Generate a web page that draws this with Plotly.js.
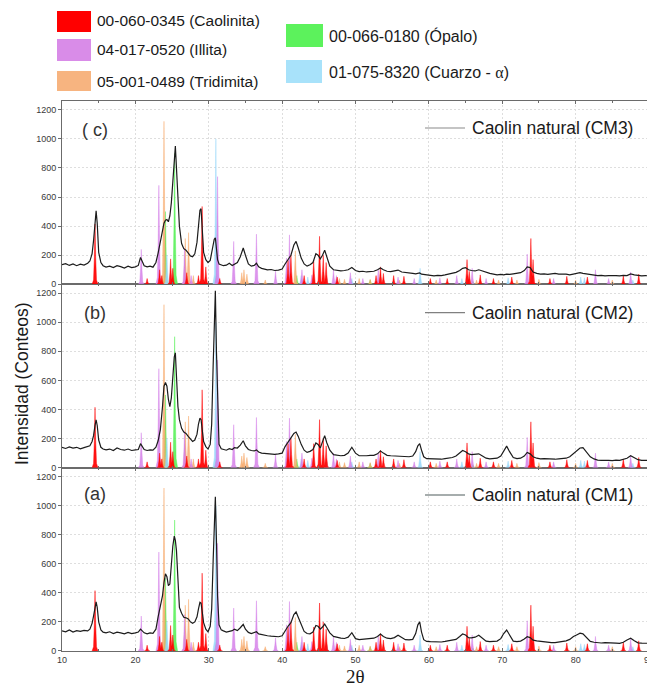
<!DOCTYPE html>
<html><head><meta charset="utf-8">
<script src="https://cdn.plot.ly/plotly-3.0.1.min.js"></script>
<style>html,body{margin:0;padding:0;overflow:hidden;background:#fff}</style>
</head><body><div id="chart"></div>
<script>
// ---- measured patterns (2θ grid shared by the three samples) ----
const twoTheta = [
 10,10.5,11,11.5,12,12.5,13,13.5,13.8,14.1,14.3,14.5,14.65,14.8,15.0,15.3,15.6,16,16.5,17,17.5,18,18.5,19,19.5,
 20,20.4,20.7,20.9,21.2,21.6,22,22.4,22.8,23.1,23.4,23.7,23.9,24.1,24.3,24.5,24.7,24.9,25.1,25.3,25.45,25.6,25.8,26.0,26.3,26.6,26.9,27.2,27.5,27.8,28.1,28.4,28.6,28.8,28.95,29.1,29.3,29.6,29.9,
 30.2,30.4,30.6,30.75,30.9,31.05,31.2,31.4,31.7,32.0,32.4,32.8,33.2,33.5,33.9,34.3,34.7,35.0,35.4,35.8,36.2,36.5,36.8,37.2,37.6,38.0,38.5,39.0,39.5,
 40.0,40.4,40.8,41.2,41.6,41.9,42.2,42.6,43.0,43.4,43.8,44.2,44.6,44.9,45.2,45.5,45.8,46.1,46.5,47.0,47.5,48.0,48.5,49.0,49.5,
 50.0,50.5,51.0,51.5,52.0,52.5,53.0,53.4,53.8,54.3,54.8,55.3,55.8,56.3,56.8,57.3,57.8,58.2,58.5,58.75,59.0,59.3,59.7,
 60.2,60.7,61.2,61.7,62.2,62.7,63.2,63.7,64.2,64.6,65.0,65.4,65.8,66.3,66.8,67.3,67.8,68.3,68.8,69.3,69.8,
 70.2,70.6,71.0,71.5,72.0,72.5,73.0,73.4,73.8,74.2,74.7,75.2,75.7,76.2,76.7,77.2,77.7,78.2,78.7,79.2,79.7,
 80.2,80.6,81.0,81.5,82.0,82.5,83.0,83.5,84.0,84.5,85.0,85.5,86.0,86.5,87.0,87.5,88.0,88.5,89.0,89.5,90
];
const cm3 = [
 135,142,130,140,128,138,132,145,160,210,300,440,505,420,220,150,128,118,125,115,128,122,112,125,115,
 120,130,185,165,128,120,125,118,150,215,300,380,420,440,445,430,470,560,700,870,950,800,560,400,280,245,235,215,195,190,210,290,420,510,520,400,220,170,150,
 165,210,270,310,320,260,170,140,135,128,132,145,130,140,150,190,250,200,140,125,130,145,120,110,105,100,102,95,98,
 105,140,175,200,270,295,250,180,140,125,135,150,210,200,175,200,235,180,125,100,95,92,95,100,115,
 95,88,90,85,88,90,100,112,100,90,88,92,98,85,80,78,75,72,75,78,70,68,62,
 60,58,62,60,65,70,75,82,95,110,115,100,95,92,100,90,80,75,70,65,68,
 65,70,68,72,75,80,95,120,115,85,75,70,72,68,72,75,70,72,70,65,70,
 75,80,75,70,65,62,60,62,58,60,62,60,58,62,60,72,65,60,58,60,58
];
const cm2 = [
 140,132,142,135,140,130,138,145,150,180,220,290,328,290,190,140,128,122,128,118,135,125,120,128,118,
 122,125,165,150,125,118,122,120,140,185,260,420,560,585,560,470,420,480,620,760,790,650,420,330,270,245,235,215,195,180,190,230,300,340,330,260,180,145,128,
 160,300,700,1050,1215,800,420,160,130,125,120,130,125,138,135,155,185,150,125,118,115,122,108,100,98,95,96,92,95,
 100,145,180,205,235,245,215,160,120,105,112,125,170,160,135,180,220,170,120,90,85,82,85,100,140,
 100,82,80,82,85,85,95,115,100,85,82,80,82,78,75,75,80,110,150,165,120,75,62,
 60,58,60,58,62,65,70,80,100,118,110,95,90,92,95,80,65,60,62,65,80,
 115,148,110,70,62,65,80,105,95,75,65,60,62,60,62,58,60,62,65,75,95,
 115,135,138,110,75,60,52,50,52,50,48,52,50,55,65,82,70,55,50,52,50
];
const cm1 = [
 138,132,145,130,140,135,142,138,150,190,240,300,338,300,200,145,130,125,132,120,130,125,118,128,120,
 125,130,150,140,125,118,125,122,150,235,300,380,470,530,510,450,460,600,720,790,760,690,450,300,260,232,228,220,200,190,200,235,290,335,330,270,195,150,132,
 170,290,620,900,1060,760,380,180,145,138,130,135,140,150,140,160,183,150,128,120,125,132,118,112,108,105,102,100,98,
 105,140,170,195,250,268,230,175,135,120,118,130,175,170,150,165,185,160,125,100,92,88,86,95,126,
 85,78,80,82,85,88,100,117,100,88,85,92,108,90,78,76,80,120,180,200,130,78,66,
 64,62,64,62,66,70,72,80,100,117,110,92,90,95,108,90,68,64,66,68,85,
 120,144,110,68,64,68,82,98,92,75,70,66,64,60,58,57,60,62,70,80,100,
 112,122,118,95,66,60,56,55,58,55,56,54,53,60,75,88,70,56,54,55,53
];

// ---- reference patterns (peak position, relative height) ----
const kaoliniteAngle = [14.5,21.6,23.3,23.6,24.8,25.1,27.0,28.6,29.1,29.6,31.5,40.8,41.2,43.0,44.3,45.1,45.6,46.0,47.5,52.8,53.4,53.8,55.2,56.6,60.2,62.5,65.2,65.5,67.0,68.8,71.3,73.9,74.2,76.5,78.8,81.6,86.5,88.6];
const kaoliniteHeight = [415,40,100,60,175,110,80,60,535,120,40,165,200,60,165,330,200,150,50,60,120,75,60,55,40,40,170,90,65,40,50,315,170,40,55,50,60,70];
const illiteAngle = [20.8,23.2,26.7,27.6,31.2,33.4,36.5,39.1,40.6,41.0,42.7,44.05,47.0,47.4,49.3,51.0,53.1,55.8,58.0,61.5,63.8,65.9,67.8,73.4,77.0,82.7,84.5,87.5];
const illiteHeight = [240,680,250,60,740,295,345,90,180,340,100,65,100,60,80,40,100,50,40,45,60,110,40,208,40,100,40,85];
const tridymiteAngle = [23.9,26.8,27.25,27.9,34.5,34.8,35.2,37.7,41.8,47.8,48.5,50.5,52.0,56.0,61.0,66.5,69.5,72.0,75.0,80.0,85.0];
const tridymiteHeight = [1120,315,355,60,80,100,70,30,230,40,35,40,35,30,30,30,30,30,35,30,30];
const opalAngle = [24.1,25.35,31.0,42.0,52.0,66.0];
const opalHeight = [500,900,60,60,30,20];
const quartzAngle = [24.3,30.97,42.6,43.5,46.1,49.5,58.8,64.5,70.8,80.7,81.2,87.8];
const quartzHeight = [200,1000,60,50,40,40,110,40,45,50,45,30];

const phaseNames = ['00-060-0345 (Caolinita)','04-017-0520 (Illita)','05-001-0489 (Tridimita)','00-066-0180 (Ópalo)','01-075-8320 (Cuarzo - α)'];
const sampleNames = ['Caolin natural (CM1)','Caolin natural (CM2)','Caolin natural (CM3)'];
const panelLabels = ['(a)','(b)','( c)'];
const yTicks = [0,200,400,600,800,1000,1200];

// ---- build ----
function peaks(angles, heights){
  const x=[], y=[];
  angles.forEach((a,i)=>{
    const h=heights[i];
    x.push(a-0.4,a-0.2,a-0.09,a,a+0.09,a+0.2,a+0.4,null);
    y.push(0,0.07*h,0.45*h,h,0.45*h,0.07*h,0,null);
  });
  return {x,y};
}
const phases = [
  {p:peaks(opalAngle,opalHeight), c:'rgba(80,240,80,0.85)'},
  {p:peaks(tridymiteAngle,tridymiteHeight), c:'rgba(247,168,105,0.82)'},
  {p:peaks(quartzAngle,quartzHeight), c:'rgba(150,215,250,0.85)'},
  {p:peaks(illiteAngle,illiteHeight), c:'rgba(212,125,232,0.82)'},
  {p:peaks(kaoliniteAngle,kaoliniteHeight), c:'rgba(255,0,0,0.92)'}
];
const curves = [cm1, cm2, cm3];
const axes = [['x','y'],['x2','y2'],['x3','y3']];
const traces = [];
axes.forEach((ax,k)=>{
  phases.forEach(ph=>{
    traces.push({x:ph.p.x, y:ph.p.y, xaxis:ax[0], yaxis:ax[1], mode:'lines', fill:'toself',
      fillcolor:ph.c, line:{color:ph.c, width:0.5}, connectgaps:false, hoverinfo:'skip', showlegend:false});
  });
  traces.push({x:twoTheta, y:curves[k], xaxis:ax[0], yaxis:ax[1], mode:'lines',
    line:{color:'#1c1c1c', width:1.2}, hoverinfo:'skip', showlegend:false});
});

const L=62, T=101, W=587, H=550;
const fx = px => (px-L)/W, fy = py => (T+H-py)/H;
const axisColor = '#6b6b6b', gridColor = '#dedede';
const tickFont = {family:'Liberation Sans, Arial, sans-serif', size:9, color:'#3a3a3a'};
function xax(extra){ return Object.assign({range:[10,90], tick0:10, dtick:10, showgrid:true, gridcolor:gridColor, griddash:'2px,2px',
  showline:true, linecolor:axisColor, linewidth:1, mirror:'allticks', ticks:'inside', ticklen:3, tickcolor:axisColor,
  zeroline:false, tickfont:tickFont, ticklabeloverflow:'allow',
  minor:{dtick:5, ticks:'inside', ticklen:2, tickcolor:axisColor, showgrid:false}}, extra); }
function yax(d, anchor){ return {domain:d, anchor:anchor, range:[0,1260], tickvals:yTicks, showgrid:true, gridcolor:gridColor, griddash:'2px,2px',
  showline:true, linecolor:axisColor, linewidth:1, mirror:true, ticks:'outside', ticklen:3, tickcolor:axisColor,
  zeroline:false, tickfont:tickFont}; }

const legendColors = ['#ff0000','#d98ce8','#f7b480','#5cf25c','#a8e2fa'];
const swatches = [[57,91,11,32],[57,91,39,61],[57,91,71,91],[286,323,24,47],[286,322,60,83]];
const textPos = [[95,21],[95,50],[95,81],[327,36],[327,72]];
const shapes = [], annotations = [];
swatches.forEach((s,i)=>{
  shapes.push({type:'rect', xref:'paper', yref:'paper', x0:fx(s[0]), x1:fx(s[1]), y0:fy(s[3]), y1:fy(s[2]),
    fillcolor:legendColors[i], line:{width:0}});
  let txt = phaseNames[i].replace('α','<span style="font-family:Liberation Serif">α</span>');
  annotations.push({xref:'paper', yref:'paper', x:fx(textPos[i][0]), y:fy(textPos[i][1]), xanchor:'left', yanchor:'middle',
    text:txt, showarrow:false, font:{family:'Liberation Sans, Arial, sans-serif', size:i<3?15.5:16, color:'#1a1a1a'}});
});
const legY = [495, 312.7, 128];
const labY = [494, 313, 130];
const lineCol = ['#4f5d5d','#808080','#8a8a8a'];
for(let k=0;k<3;k++){
  shapes.push({type:'line', xref:'paper', yref:'paper', x0:fx(425), x1:fx(465), y0:fy(legY[k]), y1:fy(legY[k]), line:{color:lineCol[k], width:1.2}});
  annotations.push({xref:'paper', yref:'paper', x:fx(470), y:fy(legY[k]), xanchor:'left', yanchor:'middle', text:sampleNames[k],
    showarrow:false, font:{family:'Liberation Sans, Arial, sans-serif', size:17.5, color:'#1a1a1a'}});
  annotations.push({xref:'paper', yref:'paper', x:fx(95), y:fy(labY[k]), xanchor:'center', yanchor:'middle', text:panelLabels[k],
    showarrow:false, font:{family:'Liberation Sans, Arial, sans-serif', size:18, color:'#333'}});
}
annotations.push({xref:'paper', yref:'paper', x:fx(22), y:fy(384), xanchor:'center', yanchor:'middle', textangle:-90,
  text:'Intensidad (Conteos)', showarrow:false, font:{family:'Liberation Sans, Arial, sans-serif', size:17.5, color:'#1a1a1a'}});
annotations.push({xref:'paper', yref:'paper', x:fx(356), y:fy(676), xanchor:'center', yanchor:'middle',
  text:'2θ', showarrow:false, font:{family:'Liberation Serif, Times New Roman, serif', size:19, color:'#1a1a1a'}});

const layout = {
  width:651, height:688, margin:{l:L, r:651-L-W, t:T, b:688-T-H},
  paper_bgcolor:'#fff', plot_bgcolor:'#fff', showlegend:false,
  xaxis: xax({anchor:'y'}),
  xaxis2: xax({anchor:'y2', matches:'x', showticklabels:false}),
  xaxis3: xax({anchor:'y3', matches:'x', showticklabels:false}),
  yaxis: yax([0,1/3],'x'),
  yaxis2: yax([1/3,2/3],'x2'),
  yaxis3: yax([2/3,1],'x3'),
  shapes: shapes, annotations: annotations
};
Plotly.newPlot('chart', traces, layout, {displayModeBar:false, staticPlot:true});
</script></body></html>
